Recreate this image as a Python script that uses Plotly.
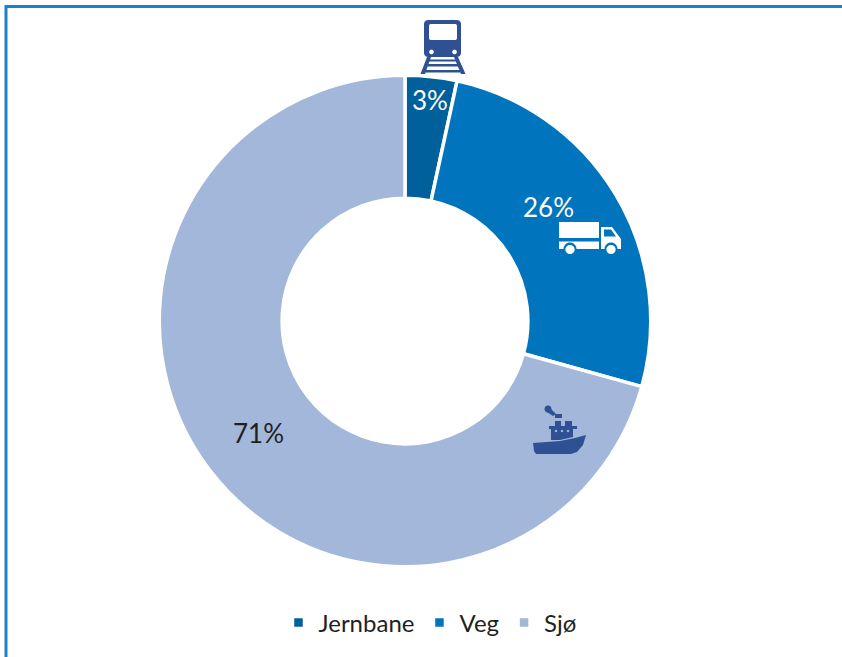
import math
import plotly.graph_objects as go

categories = ["Jernbane", "Veg", "Sjø"]
shares = [3.4, 25.9, 70.7]
share_labels = ["3%", "26%", "71%"]
slice_colors = ["#00609C", "#0075BE", "#A2B7D9"]
label_colors = ["#FFFFFF", "#FFFFFF", "#1F1F1F"]
label_px = [(430, 100), (548, 207), (258, 433)]

W, H = 842, 657
CX, CY, R = 405, 321, 245.75
ICON = "#2F5092"
FONT = "Lato, 'Open Sans', sans-serif"


def X(x):
    return x / W


def Y(y):
    return 1 - y / H


def path(points, close=True):
    d = "M" + " L".join(f"{X(x):.5f},{Y(y):.5f}" for x, y in points)
    return d + (" Z" if close else "")


def poly(points, color):
    return dict(type="path", xref="paper", yref="paper", path=path(points),
                fillcolor=color, line=dict(width=0), layer="above")


def circle_pts(cx, cy, r, n=32):
    return [(cx + r * math.cos(2 * math.pi * i / n), cy + r * math.sin(2 * math.pi * i / n)) for i in range(n)]


def rrect(x0, y0, x1, y1, r):
    pts = []
    for cx, cy, a0 in [(x1 - r, y0 + r, -90), (x1 - r, y1 - r, 0), (x0 + r, y1 - r, 90), (x0 + r, y0 + r, 180)]:
        for i in range(7):
            a = math.radians(a0 + i * 15)
            pts.append((cx + r * math.cos(a), cy + r * math.sin(a)))
    return pts


shapes = [
    dict(type="path", xref="paper", yref="paper",
         path=path([(6, 657), (6, 6.5), (842, 6.5)], close=False),
         line=dict(color="#1A82C9", width=3), layer="above"),
]

# train
shapes += [
    poly(rrect(424, 20, 461, 57, 4), ICON),
    poly(rrect(429, 24, 457, 40, 2), "#FFFFFF"),
    poly(circle_pts(431.5, 52, 2.3), "#FFFFFF"),
    poly(circle_pts(454.5, 52, 2.3), "#FFFFFF"),
    poly([(427, 57), (431, 57), (425, 74), (420.5, 74)], ICON),
    poly([(454, 57), (458, 57), (465.5, 74), (461, 74)], ICON),
    poly([(429, 59.5), (456, 59.5), (457, 61.5), (428, 61.5)], ICON),
    poly([(427, 64), (458, 64), (459, 66.5), (426, 66.5)], ICON),
    poly([(424, 70), (461, 70), (462, 72.5), (423, 72.5)], ICON),
]

# truck
shapes += [
    poly([(559, 222), (599, 222), (599, 238), (559, 238)], "#FFFFFF"),
    poly([(559, 241.5), (599, 241.5), (599, 249), (559, 249)], "#FFFFFF"),
    poly([(601, 227), (612, 227), (621, 239), (621, 249), (601, 249)], "#FFFFFF"),
    poly([(604, 229.5), (611, 229.5), (616, 236.5), (604, 236.5)], "#0075BE"),
    poly(circle_pts(570, 249, 6.5), "#0075BE"),
    poly(circle_pts(570, 249.5, 4.6), "#FFFFFF"),
    poly(circle_pts(611, 249, 6.5), "#0075BE"),
    poly(circle_pts(611, 249.5, 4.6), "#FFFFFF"),
]

# ship
shapes += [
    poly([(533, 443), (560, 441), (575, 438), (586, 435), (583, 445), (577, 452), (571, 454), (536, 454), (534, 451)], ICON),
    poly([(551, 440), (551, 429), (549, 429), (549, 426), (555, 426), (555, 421), (561, 421), (561, 426), (565, 426),
          (565, 421), (572, 421), (572, 426), (577, 426), (577, 429), (573, 429), (573, 437), (560, 440)], ICON),
    poly([(555, 414), (562, 414), (562, 418), (555, 418)], ICON),
    poly(circle_pts(548, 409, 3.5), ICON),
    poly([(547, 412), (550, 408), (556, 414), (553, 416)], ICON),
    poly(circle_pts(556, 431, 1.2), "#A2B7D9"),
    poly(circle_pts(562, 431, 1.2), "#A2B7D9"),
    poly(circle_pts(568, 431, 1.2), "#A2B7D9"),
]

annotations = [
    dict(x=X(px), y=Y(py), xref="paper", yref="paper", text=t, showarrow=False,
         xanchor="center", yanchor="middle", font=dict(family=FONT, size=26, color=c))
    for t, c, (px, py) in zip(share_labels, label_colors, label_px)
]

fig = go.Figure(go.Pie(
    labels=categories,
    values=shares,
    marker=dict(colors=slice_colors, line=dict(color="#FFFFFF", width=3.5)),
    hole=0.5,
    sort=False,
    direction="clockwise",
    rotation=0,
    textinfo="none",
    domain=dict(x=[X(CX - R), X(CX + R)], y=[Y(CY + R), Y(CY - R)]),
))
fig.update_layout(
    width=W, height=H,
    autosize=False,
    margin=dict(l=0, r=0, t=0, b=0),
    paper_bgcolor="#FFFFFF",
    shapes=shapes,
    annotations=annotations,
    legend=dict(orientation="h", x=X(430), xanchor="center", y=Y(623), yanchor="middle",
                font=dict(family=FONT, size=24, color="#1F1F1F")),
)
fig.write_html("out.html", config=dict(displayModeBar=False),
               post_script="document.body.style.margin='0';document.documentElement.style.overflow='hidden';")
